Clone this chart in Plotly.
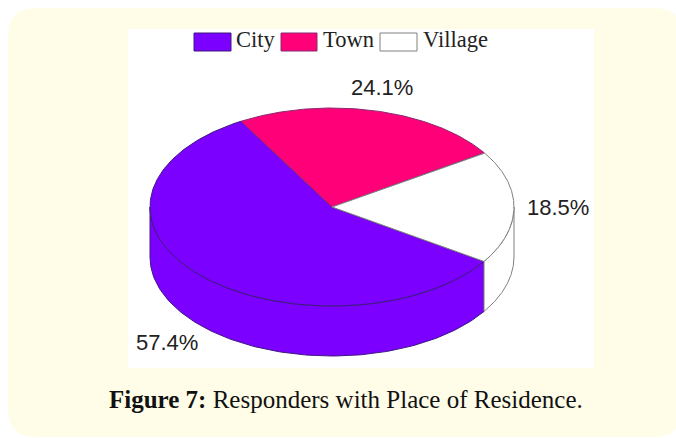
import numpy as np
import plotly.graph_objects as go

# --- data ---
categories = ["City", "Town", "Village"]
shares = [57.4, 24.1, 18.5]
share_labels = ["57.4%", "24.1%", "18.5%"]
caption_bold = "Figure 7:"
caption_rest = " Responders with Place of Residence."

# --- styling ---
fills = {"City": "#7B00FF", "Town": "#FF0078", "Village": "#FFFFFF"}
edges = {"City": "#3F1A80", "Town": "#8A2A70", "Village": "#808080"}
CARD = "#FFFDE8"
W, H = 676, 438
CX, CY, RX, RY, DEPTH = 332, 207, 182, 99, 50
START_DEG = 120  # slices run clockwise from here: Town, Village, City

def ex(a):
    return CX + RX * np.cos(np.radians(a))

def ey(a, depth=0):
    return CY - RY * np.sin(np.radians(a)) + depth

# angular extents computed from the values
order = ["Town", "Village", "City"]
spans = {}
cur = START_DEG
total = sum(shares)
for name in order:
    sweep = 360 * shares[categories.index(name)] / total
    spans[name] = (cur, cur - sweep)
    cur -= sweep

fig = go.Figure()

# side walls: only the front half (180..360 deg) is visible
for name in ["City", "Village"]:
    a0, a1 = spans[name]
    lo = min(a0, a1) % 360
    hi = lo + abs(a0 - a1)
    lo2, hi2 = max(lo, 180), min(hi, 360)
    a = np.linspace(lo2, hi2, 120)
    xs = np.concatenate([ex(a), ex(a[::-1]), [ex(a[0])]])
    ys = np.concatenate([ey(a), ey(a[::-1], DEPTH), [ey(a[0])]])
    fig.add_trace(go.Scatter(x=xs, y=ys, mode="lines", fill="toself",
                             fillcolor=fills[name], showlegend=False, hoverinfo="skip",
                             line=dict(color=edges[name], width=1)))

# top faces
for name in ["City", "Town", "Village"]:
    a0, a1 = spans[name]
    a = np.linspace(a0, a1, 240)
    xs = np.concatenate([[CX], ex(a), [CX]])
    ys = np.concatenate([[CY], ey(a), [CY]])
    fig.add_trace(go.Scatter(x=xs, y=ys, mode="lines", fill="toself", name=name,
                             fillcolor=fills[name], showlegend=False,
                             hovertemplate=f"{name}: {share_labels[categories.index(name)]}<extra></extra>",
                             line=dict(color=edges[name], width=1)))

# card and white picture panel
r = 28
x0, y0, x1, y1 = 8, 8, 682, 437
card_path = (f"M{x0+r},{y0} L{x1-r},{y0} Q{x1},{y0} {x1},{y0+r} L{x1},{y1-r} Q{x1},{y1} {x1-r},{y1} "
             f"L{x0+r},{y1} Q{x0},{y1} {x0},{y1-r} L{x0},{y0+r} Q{x0},{y0} {x0+r},{y0} Z")
shapes = [
    dict(type="path", path=card_path, fillcolor=CARD, line=dict(width=0), layer="below"),
    dict(type="rect", x0=128, y0=29, x1=594, y1=368, fillcolor="#FFFFFF", line=dict(width=0), layer="below"),
]

# legend
legend_x = {"City": (194, 231, 234), "Town": (281, 317, 321), "Village": (380, 417, 421)}
annotations = []
for name in categories:
    a, b, t = legend_x[name]
    shapes.append(dict(type="rect", x0=a, x1=b, y0=33, y1=51, fillcolor=fills[name],
                       line=dict(color=edges[name], width=1)))
    annotations.append(dict(x=t, y=39.5, text=name, showarrow=False, xanchor="left", yanchor="middle",
                            font=dict(family="Liberation Serif", size=22.5, color="#222222")))

# slice percentages
label_pos = {"City": (167, 342), "Town": (382, 87), "Village": (558, 207)}
for name in categories:
    px, py = label_pos[name]
    annotations.append(dict(x=px, y=py, text=share_labels[categories.index(name)], showarrow=False,
                            xanchor="center", yanchor="middle",
                            font=dict(family="Liberation Sans", size=22, color="#222222")))

# caption
annotations.append(dict(x=345.5, y=399, text=f"<b>{caption_bold}</b>{caption_rest}", showarrow=False,
                        xanchor="center", yanchor="middle",
                        font=dict(family="Liberation Serif", size=25, color="#111111")))

fig.update_layout(
    width=W, height=H, margin=dict(l=0, r=0, t=0, b=0),
    paper_bgcolor="#FFFFFF", plot_bgcolor="rgba(0,0,0,0)",
    xaxis=dict(range=[0, W], visible=False, fixedrange=True),
    yaxis=dict(range=[H, 0], visible=False, fixedrange=True),
    shapes=shapes, annotations=annotations, showlegend=False,
)
fig.write_html("out.html", config={"displayModeBar": False},
               post_script="document.body.style.margin='0';document.body.style.overflow='hidden';")
